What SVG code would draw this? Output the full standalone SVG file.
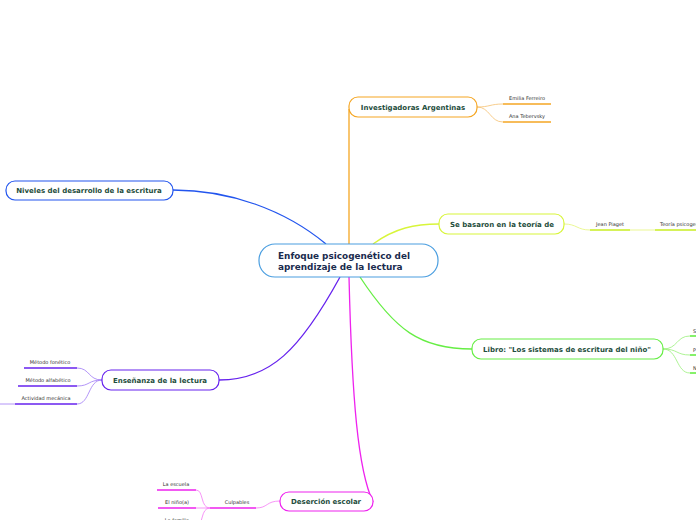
<svg xmlns="http://www.w3.org/2000/svg" width="696" height="520" viewBox="0 0 696 520">
<style>
.c{fill:none;stroke-width:1.3}
.s{fill:none;stroke-width:0.8}
.n{fill:#fff;stroke-width:1.2}
.t{font-family:"DejaVu Sans",Verdana,sans-serif;font-weight:bold;font-size:7px;fill:#1e4d3c;text-anchor:middle}
.m{font-family:"DejaVu Sans",Verdana,sans-serif;font-weight:bold;font-size:8.9px;fill:#1a2b4e}
.l{font-family:"DejaVu Sans",Verdana,sans-serif;font-size:5px;fill:#333;text-anchor:middle}
.u{stroke-width:1.6}
</style>
<rect width="696" height="520" fill="#fff"/>
<g id="connectors">
<path class="c" stroke="#f5a623" d="M349,244 L349,109"/>
<path class="c" stroke="#d8f53a" d="M373,244 C395,228 415,224 439,224"/>
<path class="c" stroke="#66ee44" d="M360,277 C395,330 420,349 472,349"/>
<path class="c" stroke="#2255ee" d="M326,244 C285,210 230,190 173,190"/>
<path class="c" stroke="#6622ee" d="M340,277 C300,350 270,380 219,380"/>
<path class="c" stroke="#ee22ee" d="M349,277 C352,400 358,470 373,502"/>
<path class="s" stroke="#f5c070" d="M477,107 C490,107 490,104 503,104 M477,107 C490,107 490,122 503,122"/>
<path class="s" stroke="#e6f57a" d="M564,224 C577,224 577,230 590,230 M630,230 L655,230"/>
<path class="s" stroke="#99f07a" d="M663,349 C678,349 676,336 690,336 M663,349 C678,349 676,355 690,355 M663,349 C678,349 676,373 690,373"/>
<path class="s" stroke="#a07af5" d="M102,380 C88,380 90,368 77,368 M102,380 C88,380 90,386 77,386 M102,380 C88,380 90,404 77,404 M15,404 L0,404"/>
<path class="s" stroke="#f57af5" d="M280,501 C266,501 268,508 256,508 M210,508 C200,508 204,490 196,490 M210,508 L196,508 M210,508 C200,508 204,526 196,526"/>
</g>
<g id="central">
<rect class="n" stroke="#4a9ee0" x="259" y="244" width="179" height="33" rx="16"/>
<text class="m" x="278" y="259">Enfoque psicogenético del</text>
<text class="m" x="278" y="270">aprendizaje de la lectura</text>
</g>
<g id="investigadoras">
<rect class="n" stroke="#f5a623" x="349" y="97" width="128" height="20" rx="9"/>
<text class="t" x="413" y="110">Investigadoras Argentinas</text>
</g>
<g id="emilia">
<text class="l" x="527" y="100">Emilia Ferreiro</text>
<line class="u" stroke="#f5a623" x1="503" y1="104" x2="551" y2="104"/>
</g>
<g id="ana">
<text class="l" x="527" y="118">Ana Tebervsky</text>
<line class="u" stroke="#f5a623" x1="503" y1="122" x2="551" y2="122"/>
</g>
<g id="basaron">
<rect class="n" stroke="#d8f53a" x="439" y="214" width="125" height="20" rx="9"/>
<text class="t" x="502" y="227">Se basaron en la teoría de</text>
</g>
<g id="piaget">
<text class="l" x="610" y="226">Jean Piaget</text>
<line class="u" stroke="#c8ee22" x1="590" y1="230" x2="630" y2="230"/>
</g>
<g id="teoria">
<text class="l" x="660" y="226" style="text-anchor:start">Teoría psicogenética</text>
<line class="u" stroke="#c8ee22" x1="655" y1="230" x2="700" y2="230"/>
</g>
<g id="libro">
<rect class="n" stroke="#66ee44" x="472" y="339" width="191" height="20" rx="9"/>
<text class="t" x="567" y="352">Libro: "Los sistemas de escritura del niño"</text>
</g>
<g id="lib-s">
<text class="l" x="693" y="333" style="text-anchor:start">S</text>
<line class="u" stroke="#66ee44" x1="690" y1="336" x2="700" y2="336"/>
</g>
<g id="lib-p">
<text class="l" x="693" y="352" style="text-anchor:start">P</text>
<line class="u" stroke="#66ee44" x1="690" y1="355" x2="700" y2="355"/>
</g>
<g id="lib-n">
<text class="l" x="693" y="370" style="text-anchor:start">N</text>
<line class="u" stroke="#66ee44" x1="690" y1="373" x2="700" y2="373"/>
</g>
<g id="niveles">
<rect class="n" stroke="#2255ee" x="6" y="181" width="167" height="19" rx="9"/>
<text class="t" x="89" y="193">Niveles del desarrollo de la escritura</text>
</g>
<g id="ensenanza">
<rect class="n" stroke="#6622ee" x="102" y="370" width="117" height="20" rx="9"/>
<text class="t" x="160" y="383">Enseñanza de la lectura</text>
</g>
<g id="fonetico">
<text class="l" x="50" y="364">Método fonético</text>
<line class="u" stroke="#6622ee" x1="24" y1="368" x2="77" y2="368"/>
</g>
<g id="alfabetico">
<text class="l" x="48" y="382">Método alfabético</text>
<line class="u" stroke="#6622ee" x1="18" y1="386" x2="77" y2="386"/>
</g>
<g id="actividad">
<text class="l" x="46" y="400">Actividad mecánica</text>
<line class="u" stroke="#6622ee" x1="15" y1="404" x2="77" y2="404"/>
</g>
<g id="desercion">
<rect class="n" stroke="#ee22ee" x="280" y="492" width="93" height="19" rx="9"/>
<text class="t" x="326" y="504">Deserción escolar</text>
</g>
<g id="culpables">
<text class="l" x="237" y="504">Culpables</text>
<line class="u" stroke="#ee22ee" x1="210" y1="508" x2="256" y2="508"/>
</g>
<g id="escuela">
<text class="l" x="176" y="486">La escuela</text>
<line class="u" stroke="#ee22ee" x1="157" y1="490" x2="196" y2="490"/>
</g>
<g id="nino">
<text class="l" x="177" y="504">El niño(a)</text>
<line class="u" stroke="#ee22ee" x1="158" y1="508" x2="196" y2="508"/>
</g>
<g id="familia">
<text class="l" x="177" y="522">La familia</text>
<line class="u" stroke="#ee22ee" x1="158" y1="526" x2="196" y2="526"/>
</g>
</svg>
